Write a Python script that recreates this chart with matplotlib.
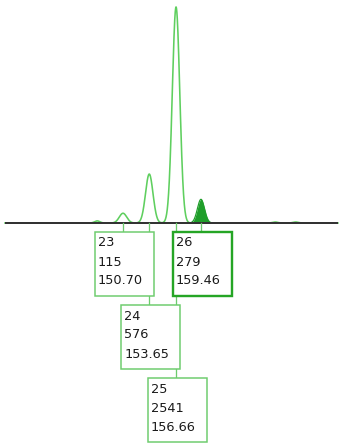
import numpy as np
import matplotlib
matplotlib.use("Agg")
import matplotlib.pyplot as plt
from matplotlib.patches import Rectangle

# Called peaks: allele number, height (RFU), size (bp)
peak_ids = ["23", "24", "25", "26"]
peak_heights = [115, 576, 2541, 279]
peak_sizes = [150.70, 153.65, 156.66, 159.46]
selected_peak = "26"

# Small baseline wiggles (size in bp, height in RFU)
noise_sizes = [147.8, 167.8, 170.1]
noise_heights = [25, 12, 12]

W, H, DPI = 339, 444, 100
fig = plt.figure(figsize=(W / DPI, H / DPI), dpi=DPI)
ax = fig.add_axes([0, 0, 1, 1])
ax.set_axis_off()

x_lo, x_hi = 136.88, 174.97
y_lo, y_hi = -2599, 2623
ax.set_xlim(x_lo, x_hi)
ax.set_ylim(y_lo, y_hi)

px = 72 / DPI  # one pixel in points
sigma = 0.42

# trace drawn only over the baseline span
x0 = x_lo + 5 / W * (x_hi - x_lo)
x1 = x_lo + 338 / W * (x_hi - x_lo)
x = np.arange(x0, x1, 0.01)


def gauss(h, c, s=sigma):
    return h * np.exp(-0.5 * ((x - c) / s) ** 2)


light_green = "#5fcf5f"
dark_green = "#1f9e2a"

# Outlined peaks (all except the selected one, which is filled)
trace = np.zeros_like(x)
for pid, h, c in zip(peak_ids, peak_heights, peak_sizes):
    if pid != selected_peak:
        trace += gauss(h, c)
for c, h in zip(noise_sizes, noise_heights):
    trace += gauss(h, c, 0.3)
ax.plot(x, trace, color=light_green, lw=1.6 * px, zorder=2)

sel = peak_ids.index(selected_peak)
sel_curve = gauss(peak_heights[sel], peak_sizes[sel], 0.4)
mask = sel_curve > 1
ax.fill_between(x[mask], 0, sel_curve[mask], color=dark_green, lw=0, zorder=2)
ax.plot(x[mask], sel_curve[mask], color=dark_green, lw=1.2 * px, zorder=2)

# Baseline
ax.plot([x0, x1], [0, 0], color="#333333", lw=2.0 * px, zorder=3,
        solid_capstyle="butt")

# Label boxes, staggered so they do not overlap
box_w, box_h = 59, 64          # pixels
box_dx = -28                    # box left edge relative to the peak
first_top, row_step = 232, 73   # pixels from the top
line_step = 19


def to_px_x(bp):
    return (bp - x_lo) / (x_hi - x_lo) * W


base_px = (y_hi - 0) / (y_hi - y_lo) * H

rows = []
for pid, h, c in zip(peak_ids, peak_heights, peak_sizes):
    cx = to_px_x(c)
    left = cx + box_dx
    level = 0
    while True:
        if level >= len(rows):
            rows.append([])
        if all(left >= r or left + box_w <= l for l, r in rows[level]):
            rows[level].append((left, left + box_w))
            break
        level += 1
    top = first_top + level * row_step
    is_sel = pid == selected_peak
    ec = "#25a525" if is_sel else "#6dcc6d"
    lw = (2.4 if is_sel else 1.5) * px

    # connector from the baseline down to the box
    ax.plot([cx / W, cx / W], [1 - base_px / H, 1 - top / H],
            transform=ax.transAxes, color="#6dcc6d", lw=1.3 * px, zorder=4)
    ax.add_patch(Rectangle((left / W, 1 - (top + box_h) / H), box_w / W, box_h / H,
                           transform=ax.transAxes, facecolor="white",
                           edgecolor=ec, lw=lw, zorder=5))
    for i, t in enumerate([pid, str(h), f"{c:.2f}"]):
        ax.text((left + 3) / W, 1 - (top + 11 + i * line_step) / H, t,
                transform=ax.transAxes, ha="left", va="center",
                fontsize=9.3, color="#1a1a1a", family="DejaVu Sans", zorder=6)

fig.savefig("out.png", dpi=DPI, facecolor="white")
